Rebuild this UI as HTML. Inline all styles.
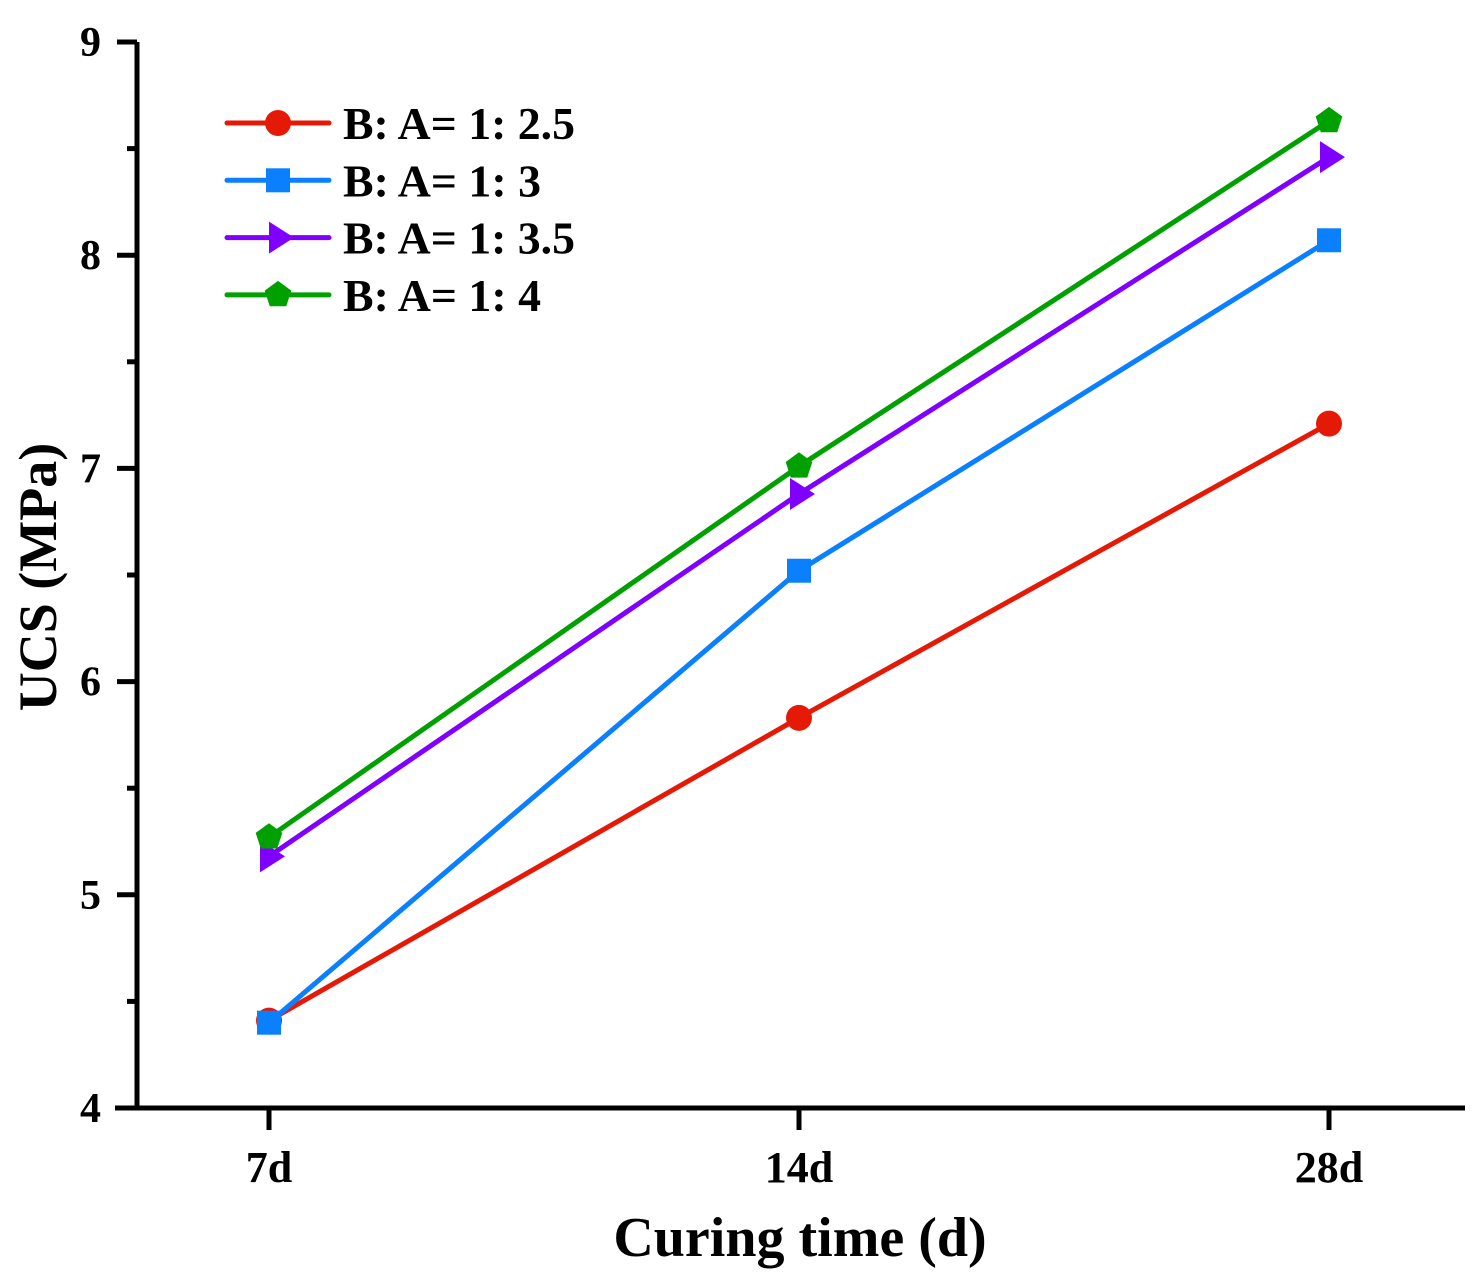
<!DOCTYPE html>
<html><head><meta charset="utf-8"><style>
body{margin:0;background:#fff}
svg{display:block;font-family:"Liberation Serif",serif;font-weight:bold}
</style></head><body>
<svg id="chart" width="1483" height="1286" viewBox="0 0 1483 1286" xmlns="http://www.w3.org/2000/svg">
<g id="axes"></g><g id="series"></g><g id="legend"></g>
<text x="800" y="1256" font-size="56" text-anchor="middle">Curing time (d)</text>
<text transform="translate(56,577) rotate(-90)" font-size="54" text-anchor="middle">UCS (MPa)</text>
</svg>
<script>
const categories = ["7d","14d","28d"];
const seriesNames = ["B: A= 1: 2.5","B: A= 1: 3","B: A= 1: 3.5","B: A= 1: 4"];
const red = [4.41,5.83,7.21];
const blue = [4.40,6.52,8.07];
const purple = [5.18,6.88,8.46];
const green = [5.27,7.01,8.63];
const yTicks = [4,5,6,7,8,9];
const colors = ["#e41a07","#0a80ff","#8000ff","#00a000"];
const markers = ["circle","square","triangle","pentagon"];
const allSeries = [red,blue,purple,green];
const NS="http://www.w3.org/2000/svg";
const X0=137,X1=1465,Y0=1108,Y1=42;
function xs(i){return 269+i*530;}
function ys(v){return Y0-(v-4)/(9-4)*(Y0-Y1);}
function mk(tag,attrs,parent){const e=document.createElementNS(NS,tag);for(const k in attrs)e.setAttribute(k,attrs[k]);parent.appendChild(e);return e;}
const axes=document.getElementById('axes');
let e=mk('line',{x1:115,y1:Y0,x2:X1,y2:Y0,stroke:'#000','stroke-width':5},axes);


e=mk('line',{x1:X0,y1:Y0+2,x2:X0,y2:Y1,stroke:'#000','stroke-width':5},axes);


yTicks.forEach(v=>{
 const y=ys(v);
 e=mk('line',{x1:X0-20,y1:y,x2:X0,y2:y,stroke:'#000','stroke-width':5},axes);
 
 
 if(v<9){const ym=ys(v+0.5);
 e=mk('line',{x1:X0-10,y1:ym,x2:X0,y2:ym,stroke:'#000','stroke-width':5},axes);
 
 }
 e=mk('text',{x:101,y:y+14,'font-size':42,'text-anchor':'end'},axes);e.textContent=v;
 
 
});
categories.forEach((c,i)=>{
 const x=xs(i);
 e=mk('line',{x1:x,y1:Y0,x2:x,y2:Y0+22,stroke:'#000','stroke-width':5},axes);
 
 
 e=mk('text',{x:x,y:1182,'font-size':44,'text-anchor':'middle'},axes);e.textContent=c;
 
 
});
function marker(type,x,y,color,parent){
 let m;
 if(type==='circle')m=mk('circle',{cx:x,cy:y,r:13,fill:color},parent);
 else if(type==='square')m=mk('rect',{x:x-12,y:y-12,width:24,height:24,fill:color},parent);
 else if(type==='triangle')m=mk('polygon',{points:`${x-9},${y-16} ${x+16},${y} ${x-9},${y+16}`,fill:color},parent);
 else{let p=[];for(let k=0;k<5;k++){const a=-Math.PI/2+k*2*Math.PI/5;p.push((x+14*Math.cos(a))+','+(y+14*Math.sin(a)));}
 m=mk('polygon',{points:p.join(' '),fill:color},parent);}
 return m;
}
const sg=document.getElementById('series');
allSeries.forEach((vals,s)=>{
 const g=mk('g',{},sg);
 
 
 const l=mk('polyline',{points:vals.map((v,i)=>xs(i)+','+ys(v)).join(' '),fill:'none',stroke:colors[s],'stroke-width':5,'stroke-linejoin':'round'},g);
 
 
 vals.forEach((v,i)=>{const m=marker(markers[s],xs(i),ys(v),colors[s],g);
 
 });
});
const lg=document.getElementById('legend');
seriesNames.forEach((n,s)=>{
 const y=123+s*57.3;
 const g=mk('g',{},lg);
 
 
 mk('line',{x1:227,y1:y,x2:329,y2:y,stroke:colors[s],'stroke-width':5,'stroke-linecap':'round'},g);
 marker(markers[s],278,y,colors[s],g);
 const t=mk('text',{x:343,y:y+16,'font-size':45,textLength:(n.length<12?198:232),lengthAdjust:'spacingAndGlyphs'},g);
 t.textContent=n;
});
</script>
</body></html>
